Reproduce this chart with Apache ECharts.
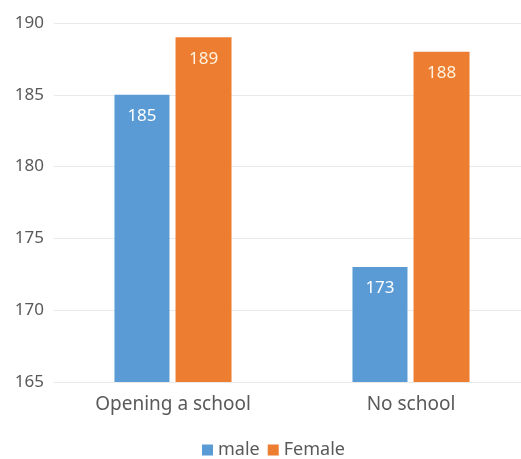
<!DOCTYPE html>
<html><head><meta charset="utf-8">
<script src="https://cdn.jsdelivr.net/npm/echarts@6/dist/echarts.min.js"></script>
<style>html,body{margin:0;padding:0;background:#fff;overflow:hidden}#c{width:530px;height:459px}</style>
</head><body><div id="c"></div>
<script>
const categories = ['Opening a school', 'No school'];
const maleValues = [185, 173];
const femaleValues = [189, 188];
const yMin = 165, yMax = 190, yStep = 5;

const chart = echarts.init(document.getElementById('c'));
const font = '"Microsoft YaHei", "Noto Sans", "DejaVu Sans", sans-serif';
chart.setOption({
  animation: false,
  grid: { left: 54, top: 23, right: 0, bottom: 77, containLabel: false },
  legend: {
    top: 436, left: 197, itemWidth: 11, itemHeight: 11, itemGap: 8,
    icon: 'rect',
    textStyle: { color: '#595959', fontSize: 18, fontFamily: font },
    data: ['male', 'Female']
  },
  xAxis: {
    type: 'category', data: categories,
    axisLine: { show: false }, axisTick: { show: false },
    axisLabel: { color: '#595959', fontSize: 19, margin: 13, fontFamily: font }
  },
  yAxis: {
    type: 'value', min: yMin, max: yMax, interval: yStep,
    axisLine: { show: false }, axisTick: { show: false },
    axisLabel: { color: '#595959', fontSize: 17, margin: 10, fontFamily: font },
    splitLine: { lineStyle: { color: '#e9e9e9', width: 1 } }
  },
  series: [
    { name: 'male', type: 'bar', data: maleValues, barWidth: 55, barGap: '11%',
      itemStyle: { color: '#5B9BD5' },
      label: { show: true, position: 'insideTop', distance: 13, color: '#ffffff', fontSize: 17, fontFamily: font } },
    { name: 'Female', type: 'bar', data: femaleValues, barWidth: 56,
      itemStyle: { color: '#ED7D31' },
      label: { show: true, position: 'insideTop', distance: 13, color: '#fff3df', fontSize: 17, fontFamily: font } }
  ]
});
</script></body></html>
